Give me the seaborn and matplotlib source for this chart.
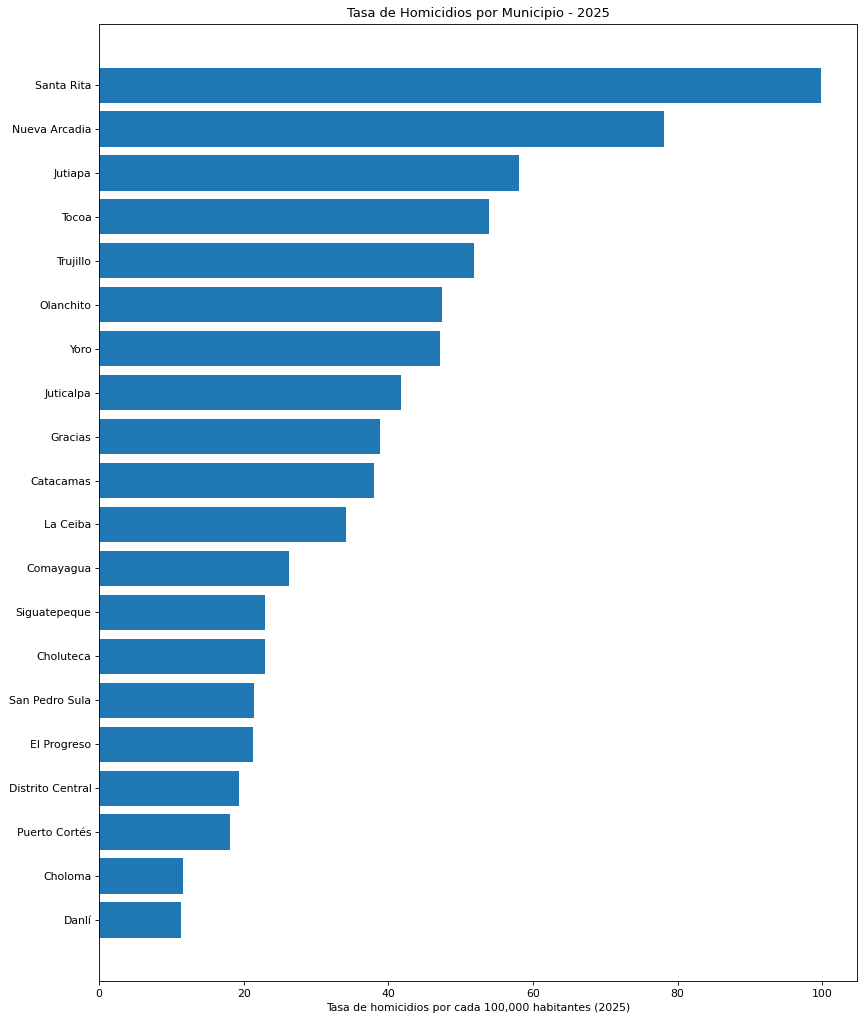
import matplotlib
matplotlib.use("Agg")
import matplotlib.pyplot as plt
import seaborn as sns
import pandas as pd

municipios = ["Santa Rita", "Nueva Arcadia", "Jutiapa", "Tocoa", "Trujillo",
              "Olanchito", "Yoro", "Juticalpa", "Gracias", "Catacamas",
              "La Ceiba", "Comayagua", "Siguatepeque", "Choluteca",
              "San Pedro Sula", "El Progreso", "Distrito Central",
              "Puerto Cortés", "Choloma", "Danlí"]
tasas = [99.8, 78.1, 58.1, 53.9, 51.9,
         47.4, 47.2, 41.7, 38.8, 38.0,
         34.2, 26.2, 22.9, 22.9,
         21.4, 21.3, 19.3,
         18.1, 11.6, 11.3]

df = pd.DataFrame({"municipio": municipios, "tasa": tasas})

DPI = 78
fig, ax = plt.subplots(figsize=(865 / DPI, 1024 / DPI), dpi=DPI)
sns.barplot(data=df, x="tasa", y="municipio", orient="h", color="#1f77b4",
            saturation=1, width=0.8, ax=ax)

n = len(municipios)
pad = 0.05 * (n - 1 + 0.8)
ax.set_ylim(n - 1 + 0.4 + pad, -0.4 - pad)
ax.set_xlim(0, max(tasas) * 1.05)
ax.set_xticks([0, 20, 40, 60, 80, 100])
ax.set_title("Tasa de Homicidios por Municipio - 2025")
ax.set_xlabel("Tasa de homicidios por cada 100,000 habitantes (2025)")
ax.set_ylabel("")
fig.subplots_adjust(left=99 / 865, right=857 / 865, top=1 - 24 / 1024, bottom=1 - 981 / 1024)
fig.savefig("out.png", dpi=DPI)
